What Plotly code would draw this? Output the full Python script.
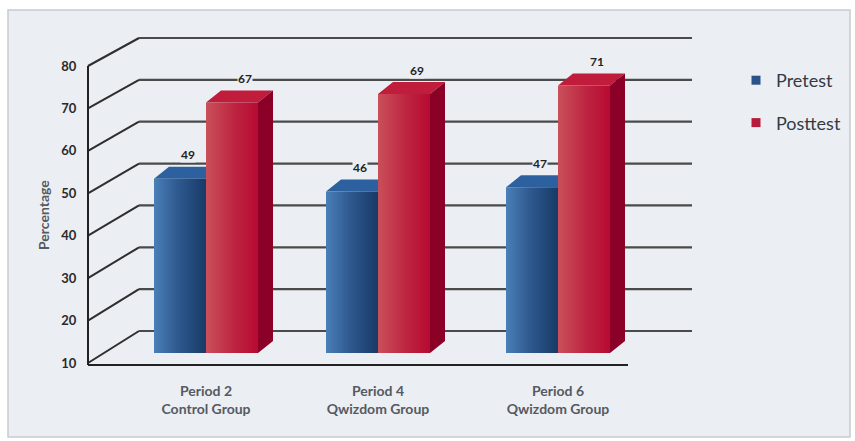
import plotly.graph_objects as go

categories = ["Period 2<br>Control Group", "Period 4<br>Qwizdom Group", "Period 6<br>Qwizdom Group"]
pretest = [49, 46, 47]
posttest = [67, 69, 71]
y_ticks = [10, 20, 30, 40, 50, 60, 70, 80]

W, H = 855, 441
L, R, T, B = 85, 700, 30, 367     # plot domain in page pixels
Y10, Y80 = 363, 66                # page y of the front scale ends
PX_Y = (Y10 - Y80) / 70.0         # pixels per axis unit
PX_X = 176.0                      # pixels per category step
C0 = 206.0                        # page x of first category

def ux(px): return px / PX_X
def uy(px): return px / PX_Y
def page_x(px): return (px - C0) / PX_X

group_x = [page_x(206), page_x(378), page_x(558)]
x_lo, x_hi = page_x(L), page_x(R)
y_lo, y_hi = 10 + uy(Y10 - B), 10 + uy(Y10 - T)
front_x = page_x(88)
floor_right = page_x(628)
wall_dx = ux(51)
wall_right = page_x(692)
bar_w = ux(52)
d_x, d_y = ux(15), uy(12)
bar_base = 10 + uy(10)
lift = 4.4   # perspective lift of the bar tops against the front scale

def wall_dy(t):
    return uy(32 - (t - 10) * 4 / 70)

PANEL = "#ebeef2"
fig = go.Figure()

def line(xs, ys, color, width):
    fig.add_trace(go.Scatter(x=xs, y=ys, mode="lines", line=dict(color=color, width=width),
                             showlegend=False, hoverinfo="skip"))

# Walls: one polyline per tick level
for t in y_ticks:
    line([front_x, front_x + wall_dx], [t, t + wall_dy(t)], "#2e2e2e", 2)
    line([front_x + wall_dx, wall_right], [t + wall_dy(t), t + wall_dy(t)], "#4a4a4a", 2.2)

# Front scale and floor
line([front_x, front_x], [10 - uy(2), 80], "#222222", 2)
line([front_x, floor_right], [10 - uy(2), 10 - uy(2)], "#222222", 2)

def face(xs, ys, color=None, grad=None):
    kw = dict(fillgradient=dict(type="horizontal", colorscale=grad)) if grad else dict(fillcolor=color)
    fig.add_trace(go.Scatter(x=xs, y=ys, mode="lines", fill="toself", line=dict(width=0),
                             showlegend=False, hoverinfo="skip", **kw))

def bar(x0, value, front_grad, top_color, side_color):
    x1 = x0 + bar_w
    top = value + lift
    face([x0, x0 + d_x, x1 + d_x, x1, x0], [top, top + d_y, top + d_y, top, top], color=top_color)
    face([x1, x1 + d_x, x1 + d_x, x1, x1], [top, top + d_y, bar_base + d_y, bar_base, top], color=side_color)
    face([x0, x1, x1, x0, x0], [bar_base, bar_base, top, top, bar_base], grad=front_grad)

blue_grad = [[0, "#4a7fb8"], [0.45, "#2f5a90"], [1, "#173a66"]]
red_grad = [[0, "#c9505a"], [0.55, "#bd2440"], [1, "#b80a32"]]

for gx, v in zip(group_x, pretest):
    bar(gx - bar_w, v, blue_grad, "#2c609f", "#173a66")
for gx, v in zip(group_x, posttest):
    bar(gx, v, red_grad, "#c01c3c", "#8a0026")

# Legend entries
fig.add_trace(go.Scatter(x=[None], y=[None], mode="markers", name="Pretest", legendgroup="a",
                         marker=dict(symbol="square", size=9, color="#2a5288")))
fig.add_trace(go.Scatter(x=[None], y=[None], mode="markers", name="Posttest", legendgroup="b",
                         marker=dict(symbol="square", size=9, color="#b81a3c")))

# Value labels
lab_font = dict(family="Lato", size=12, color="#222222", weight="bold")
for gx, v in zip(group_x, pretest):
    fig.add_annotation(x=gx - bar_w / 2 + d_x / 2, y=v + lift + d_y, text=str(v), showarrow=False, yshift=12,
                       font=lab_font, bgcolor=PANEL, borderpad=0)
for gx, v in zip(group_x, posttest):
    fig.add_annotation(x=gx + bar_w / 2 + d_x / 2 + ux(5), y=v + lift + d_y, text=str(v), showarrow=False, yshift=12,
                       font=lab_font, bgcolor=PANEL, borderpad=0)

# Axis title, centred on the scale as in the source
fig.add_annotation(xref="paper", yref="paper", x=(43 - L) / (R - L), y=(B - 215) / (B - T),
                   xanchor="center", yanchor="middle",
                   text="Percentage", textangle=-90, showarrow=False,
                   font=dict(family="Lato", size=14, color="#555a62", weight="bold"))

fig.update_layout(
    width=W, height=H, autosize=False,
    margin=dict(l=L, r=W - R, t=T, b=H - B, pad=0, autoexpand=False),
    paper_bgcolor="white", plot_bgcolor="rgba(0,0,0,0)",
    showlegend=True,
    legend=dict(x=(736 - L) / (R - L), y=1 - (62 - T) / (B - T), xanchor="left", yanchor="top",
                bgcolor="rgba(0,0,0,0)", tracegroupgap=16, itemwidth=30,
                font=dict(family="Lato", size=18, color="#333a44")),
    xaxis=dict(range=[x_lo, x_hi], tickmode="array", tickvals=group_x, ticktext=categories,
               automargin=False, showgrid=False, zeroline=False, showline=False,
               ticks="outside", ticklen=11, tickcolor="rgba(0,0,0,0)",
               tickfont=dict(family="Lato", size=14, color="#555a62", weight="bold")),
    yaxis=dict(range=[y_lo, y_hi], tickmode="array", tickvals=y_ticks,
               automargin=False, showgrid=False, zeroline=False, showline=False,
               ticks="outside", ticklen=5, tickcolor="rgba(0,0,0,0)",
               tickfont=dict(family="Lato", size=13, color="#2a2a2a", weight="bold")),
    shapes=[dict(type="rect", layer="below", xref="paper", yref="paper",
                 x0=(8 - L) / (R - L), x1=(850 - L) / (R - L),
                 y0=(B - 437) / (B - T), y1=(B - 10) / (B - T),
                 fillcolor=PANEL, line=dict(color="#c8ccd0", width=1.5))],
)

fig.write_html("out.html", config={"displayModeBar": False}, post_script="document.body.style.margin='0';")
